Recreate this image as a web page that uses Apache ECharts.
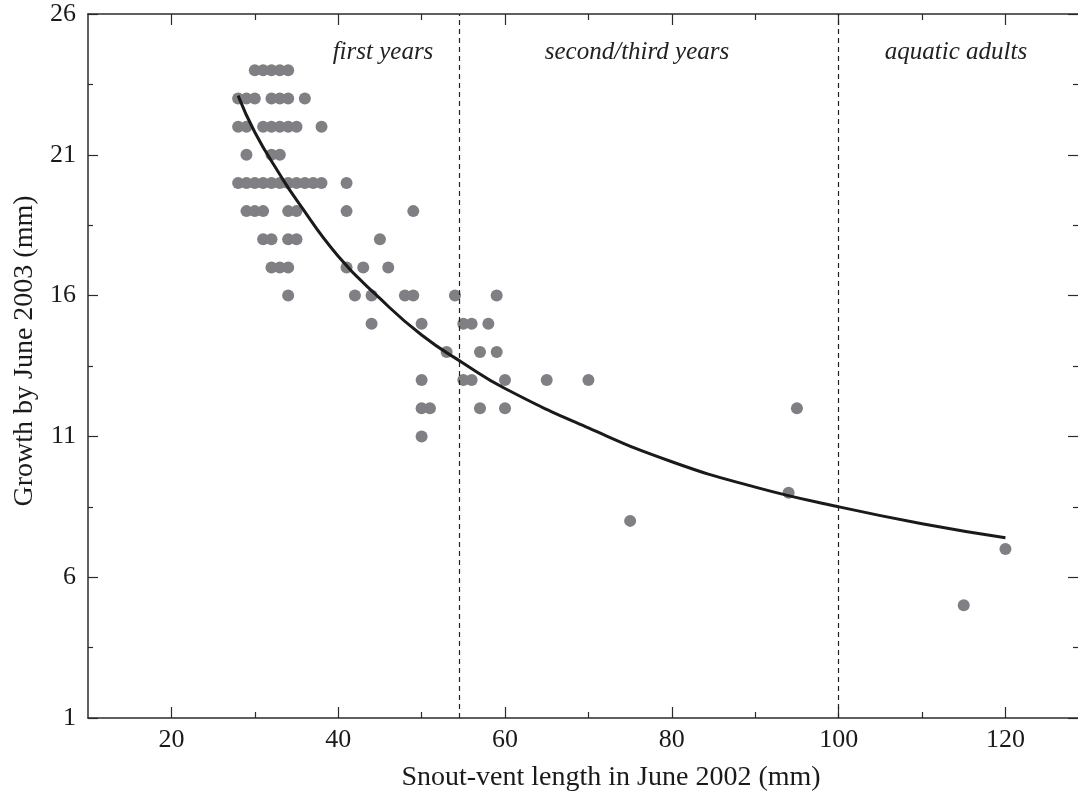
<!DOCTYPE html>
<html>
<head>
<meta charset="utf-8">
<script src="https://cdn.jsdelivr.net/npm/echarts@6/dist/echarts.min.js"></script>
<style>
html, body { margin: 0; padding: 0; background: #fff; }
#chart { width: 1078px; height: 802px; }
</style>
</head>
<body>
<div id="chart"></div>
<script>
// snout-vent length 2002 (mm) and growth by June 2003 (mm), read row by row
var svl = [
  30, 31, 32, 33, 34,
  28, 29, 30, 32, 33, 34, 36,
  28, 29, 31, 32, 33, 34, 35, 38,
  29, 32, 33,
  28, 29, 30, 31, 32, 33, 34, 35, 36, 37, 38, 41,
  29, 30, 31, 34, 35, 41, 49,
  31, 32, 34, 35, 45,
  32, 33, 34, 41, 43, 46,
  34, 42, 44, 48, 49, 54, 59,
  44, 50, 55, 56, 58,
  53, 57, 59,
  50, 55, 56, 60, 65, 70,
  50, 51, 57, 60, 95,
  50, 94, 75, 120, 115
];
var growth = [
  24, 24, 24, 24, 24,
  23, 23, 23, 23, 23, 23, 23,
  22, 22, 22, 22, 22, 22, 22, 22,
  21, 21, 21,
  20, 20, 20, 20, 20, 20, 20, 20, 20, 20, 20, 20,
  19, 19, 19, 19, 19, 19, 19,
  18, 18, 18, 18, 18,
  17, 17, 17, 17, 17, 17,
  16, 16, 16, 16, 16, 16, 16,
  15, 15, 15, 15, 15,
  14, 14, 14,
  13, 13, 13, 13, 13, 13,
  12, 12, 12, 12, 12,
  11, 9, 8, 7, 5
];

// fitted curve
var fitX = [28, 30, 33, 35, 40, 45, 50, 55, 60, 70, 80, 90, 100, 110, 120];
var fitY = [23.1, 21.8, 20.3, 19.4, 17.4, 15.9, 14.6, 13.6, 12.7, 11.3, 10.1, 9.2, 8.5, 7.9, 7.4];

// stage boundaries
var stageLines = [54.5, 100];
var stageNames = ['first years', 'second/third years', 'aquatic adults'];

var xMajor = [20, 40, 60, 80, 100, 120];
var xMinor = [30, 50, 70, 90, 110];
var yMajor = [1, 6, 11, 16, 21, 26];
var yMinor = [3.5, 8.5, 13.5, 18.5, 23.5];

var FONT = '"Liberation Serif", "Times New Roman", serif';
var AX = '#2b2b2b';
var XMAX = 128.7;

function makeAxis(pos, min, max, ticks, len, line, label) {
  return {
    type: 'value',
    position: pos,
    min: min,
    max: max,
    axisLine: { show: line, onZero: false, lineStyle: { color: AX, width: 1.5 } },
    axisTick: { show: true, inside: true, length: len, customValues: ticks,
                lineStyle: { color: AX, width: 1.2 } },
    axisLabel: label ? { show: true, customValues: ticks, color: '#1a1a1a',
                         fontFamily: FONT, fontSize: 26, margin: 9 }
                     : { show: false },
    splitLine: { show: false }
  };
}

var chart = echarts.init(document.getElementById('chart'));

var xMain = makeAxis('bottom', 10, XMAX, xMajor, 11, true, true);
xMain.name = 'Snout-vent length in June 2002 (mm)';
xMain.nameLocation = 'middle';
xMain.nameGap = 46;
xMain.nameTextStyle = { fontFamily: FONT, fontSize: 28, color: '#1a1a1a', padding: [0, 0, 0, 56] };

var yMain = makeAxis('left', 1, 26, yMajor, 10, true, true);
yMain.axisLabel.margin = 12;
yMain.axisLabel.padding = [5, 0, 0, 0];
yMain.name = 'Growth by June 2003 (mm)';
yMain.nameLocation = 'middle';
yMain.nameGap = 49;
yMain.nameTextStyle = { fontFamily: FONT, fontSize: 28, color: '#1a1a1a', padding: [0, 0, 0, 30] };

function stageText(x, txt) {
  return { type: 'text', x: x, y: 52, style: { text: txt, font: 'italic 25px ' + FONT,
           fill: '#222', align: 'center', verticalAlign: 'middle' } };
}

var option = {
  backgroundColor: '#fff',
  animation: false,
  grid: { left: 88, top: 14, right: 0, height: 704 },
  xAxis: [
    xMain,
    makeAxis('bottom', 10, XMAX, xMinor, 6, false, false),
    makeAxis('top', 10, XMAX, xMajor, 11, true, false),
    makeAxis('top', 10, XMAX, xMinor, 6, false, false)
  ],
  yAxis: [
    yMain,
    makeAxis('left', 1, 26, yMinor, 5, false, false),
    makeAxis('right', 1, 26, yMajor, 10, false, false),
    makeAxis('right', 1, 26, yMinor, 5, false, false)
  ],
  graphic: [
    stageText(383, stageNames[0]),
    stageText(637, stageNames[1]),
    stageText(956, stageNames[2])
  ],
  series: [
    {
      type: 'scatter',
      data: svl.map(function (v, i) { return [v, growth[i]]; }),
      symbolSize: 12,
      itemStyle: { color: '#7f7f84', opacity: 1 },
      markLine: {
        silent: true,
        symbol: ['none', 'none'],
        label: { show: false },
        lineStyle: { color: '#222', type: [5, 4], width: 1.2 },
        data: stageLines.map(function (v) { return { xAxis: v }; })
      },
      z: 2
    },
    {
      type: 'line',
      data: fitX.map(function (v, i) { return [v, fitY[i]]; }),
      smooth: true,
      showSymbol: false,
      lineStyle: { color: '#1a1a1a', width: 3 },
      z: 3
    }
  ]
};
chart.setOption(option);
</script>
</body>
</html>
